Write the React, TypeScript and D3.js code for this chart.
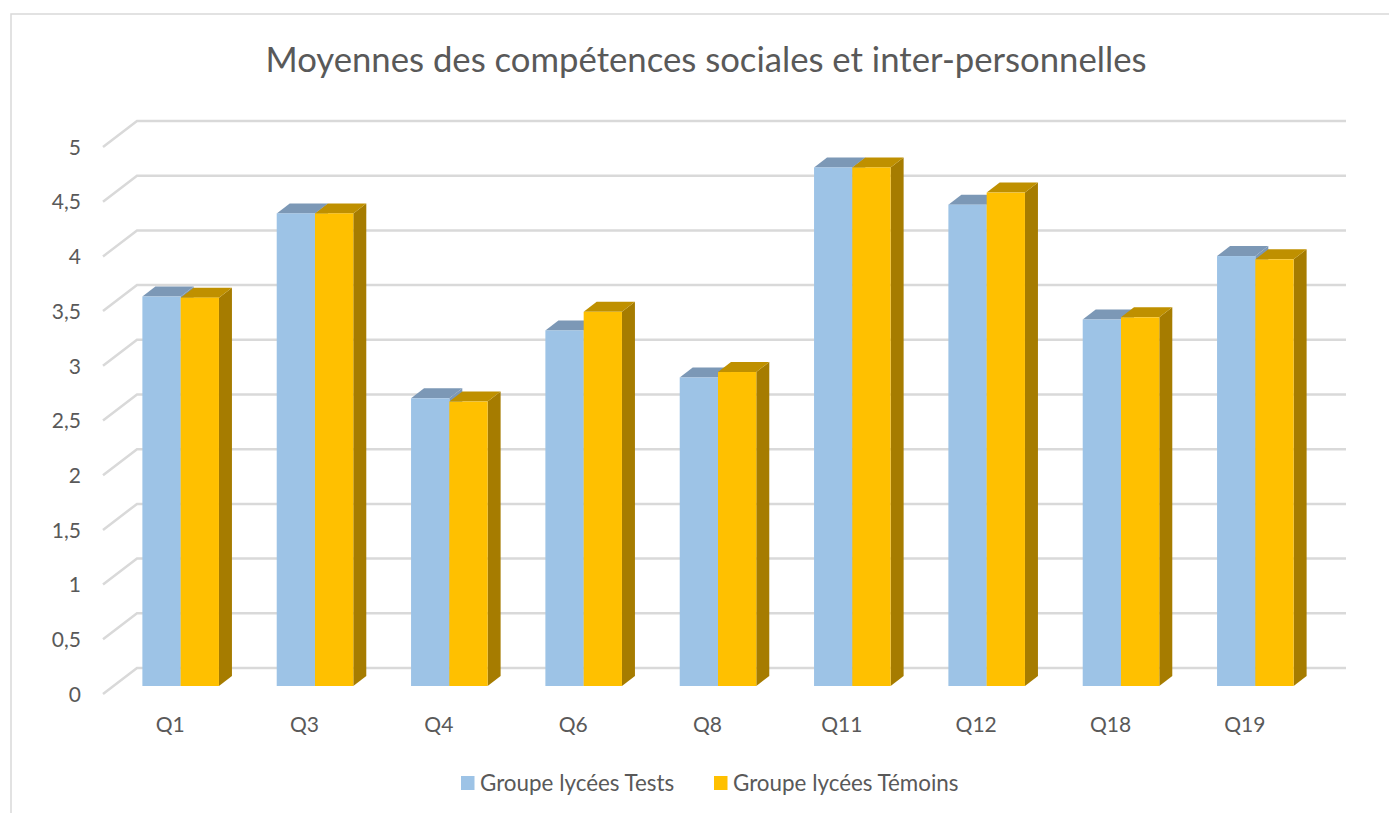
import React, { useEffect, useRef } from "react";
import * as d3 from "d3";

// values
const questions = ["Q1", "Q3", "Q4", "Q6", "Q8", "Q11", "Q12", "Q18", "Q19"];
const groupeTests = [3.56, 4.32, 2.63, 3.25, 2.82, 4.74, 4.4, 3.35, 3.93];
const groupeTemoins = [3.55, 4.32, 2.6, 3.42, 2.87, 4.74, 4.51, 3.37, 3.9];
const yTicks = [0, 0.5, 1, 1.5, 2, 2.5, 3, 3.5, 4, 4.5, 5];
const seriesNames = ["Groupe lycées Tests", "Groupe lycées Témoins"];

const FONT = "Lato, 'Open Sans', sans-serif";
const TEXT = "#595959";
const GRID = "#d9d9d9";

const width = 1389;
const height = 813;

const App = () => {
  const svgRef = useRef<SVGSVGElement>(null);

  useEffect(() => {
    const svg = d3.select(svgRef.current);
    svg.selectAll("*").remove();

    // ----- pseudo 3d offsets: floor depth and bar depth
    const wall = { dx: 34, dy: -26 };
    const depth = { dx: 13, dy: -10 };

    // ----- scales, front of the floor / back wall / bar front plane
    const yFront = d3.scaleLinear().domain([0, 5]).range([694, 147]);
    const yBars = d3.scaleLinear().domain([0, 5]).range([686, 139]);

    const xLabels = d3.scaleBand().domain(questions).range([103, 1312]);
    const xBars = d3
      .scaleBand()
      .domain(questions)
      .range([113.5, 1322.5])
      .paddingInner(0.43)
      .paddingOuter(0.215);
    const xSeries = d3
      .scaleBand()
      .domain(seriesNames)
      .range([0, xBars.bandwidth()]);

    // ----- chart frame (only top and left show in the crop)
    svg
      .append("path")
      .attr("d", `M11,${height}V14H${width}`)
      .attr("fill", "none")
      .attr("stroke", GRID)
      .attr("stroke-width", 1.5);

    // ----- title
    svg
      .append("text")
      .attr("x", 706)
      .attr("y", 72)
      .attr("text-anchor", "middle")
      .attr("font-size", 34.7)
      .attr("fill", TEXT)
      .text("Moyennes des compétences sociales et inter-personnelles");

    // ----- gridlines: side wall then back wall
    svg
      .append("g")
      .selectAll("path")
      .data(yTicks)
      .join("path")
      .attr("fill", "none")
      .attr("stroke", GRID)
      .attr("stroke-width", 2.5)
      .attr(
        "d",
        d =>
          `M103,${yFront(d)}l${wall.dx},${wall.dy}H1346`
      );

    // ----- axes, only the labels are kept
    const yAxis = svg
      .append("g")
      .attr("transform", "translate(103,0.5)")
      .call(
        d3
          .axisLeft(yFront)
          .tickValues(yTicks)
          .tickSize(0)
          .tickPadding(22)
          .tickFormat(d => String(d).replace(".", ","))
      );
    const xAxis = svg
      .append("g")
      .attr("transform", "translate(0,717)")
      .call(d3.axisBottom(xLabels).tickSize(0).tickPadding(0));

    [yAxis, xAxis].forEach(axis => {
      axis.select(".domain").remove();
      axis
        .selectAll("text")
        .attr("font-family", FONT)
        .attr("font-size", 21)
        .attr("fill", TEXT);
    });

    // ----- bars, each with front, top and side faces
    const series = [
      { name: seriesNames[0], values: groupeTests, front: "#9dc3e6", top: "#7c98b6", side: "#7c98b6" },
      { name: seriesNames[1], values: groupeTemoins, front: "#ffc000", top: "#bf9000", side: "#a67c00" }
    ];

    series.forEach(s => {
      const w = xSeries.bandwidth();
      const bars = svg
        .append("g")
        .selectAll("g")
        .data(questions.map((q, i) => ({ q, value: s.values[i] })))
        .join("g")
        .attr(
          "transform",
          d => `translate(${xBars(d.q)! + xSeries(s.name)!},0)`
        );

      bars
        .append("path")
        .attr("fill", s.side)
        .attr(
          "d",
          d =>
            `M${w},${yBars(d.value)}l${depth.dx},${depth.dy}V${yBars(0) + depth.dy}l${-depth.dx},${-depth.dy}Z`
        );
      bars
        .append("path")
        .attr("fill", s.top)
        .attr(
          "d",
          d =>
            `M0,${yBars(d.value)}l${depth.dx},${depth.dy}h${w}l${-depth.dx},${-depth.dy}Z`
        );
      bars
        .append("rect")
        .attr("y", d => yBars(d.value))
        .attr("width", w)
        .attr("height", d => yBars(0) - yBars(d.value))
        .attr("fill", s.front);
    });

    // ----- legend
    const legendX = [461, 714];
    const legend = svg
      .append("g")
      .selectAll("g")
      .data(series)
      .join("g")
      .attr("transform", (d, i) => `translate(${legendX[i]},776)`);

    legend
      .append("rect")
      .attr("width", 13.5)
      .attr("height", 14)
      .attr("fill", d => d.front);
    legend
      .append("text")
      .attr("x", 19)
      .attr("y", 14.5)
      .attr("font-size", 22.4)
      .attr("fill", TEXT)
      .text(d => d.name);
  }, []);

  return (
    <svg
      ref={svgRef}
      width={width}
      height={height}
      fontFamily={FONT}
      style={{ position: "absolute", left: 0, top: 0, background: "#fff" }}
    />
  );
};

export default App;
